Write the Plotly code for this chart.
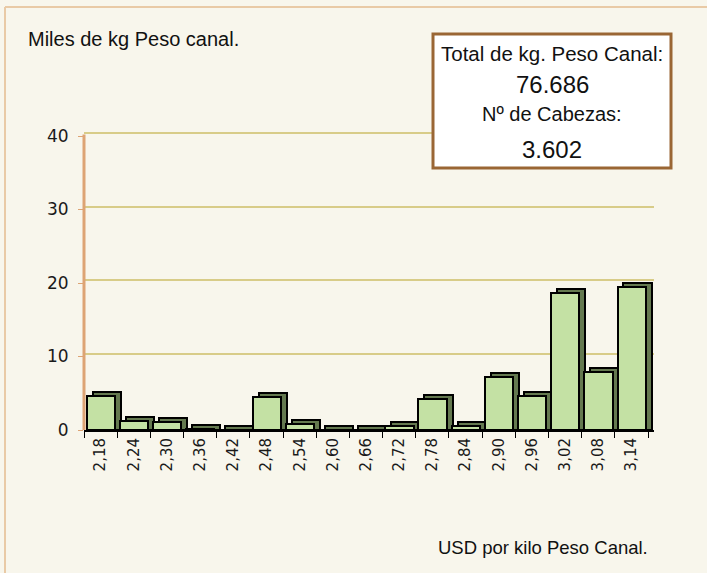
import plotly.graph_objects as go

# Price classes (USD per kg carcass weight) and carcass weight per class (thousand kg)
precios = ["2,18", "2,24", "2,30", "2,36", "2,42", "2,48", "2,54", "2,60", "2,66",
           "2,72", "2,78", "2,84", "2,90", "2,96", "3,02", "3,08", "3,14"]
miles_kg = [4.63, 1.27, 1.13, 0.08, 0.05, 4.53, 0.82, 0.05, 0.05,
            0.54, 4.18, 0.59, 7.17, 4.67, 18.6, 7.93, 19.5]

total_kg = "76.686"
cabezas = "3.602"

y_ticks = [0, 10, 20, 30, 40]

W, H = 707, 573
L, R, T, B = 84, 53, 130, 143
PW, PH = W - L - R, H - T - B
PX_PER_UNIT = 7.35
Y_TOP = PH / PX_PER_UNIT
DEPTH_Y = 0.55          # extrusion height in value units
DEPTH_X = 0.18          # extrusion shift in category units
BAR_W = 0.853
BAR_OFF = -0.42
WALL_SHIFT = 3 / PX_PER_UNIT  # back-wall gridlines sit slightly higher


def px(x):
    return (x - L) / PW


def py(y):
    return (H - B - y) / PH


BG = "#F8F6EC"
FRONT = "#C4E1A4"
SIDE = "#64794F"

fig = go.Figure()

# extruded side/top faces behind the bars
fig.add_trace(go.Bar(
    x=precios, y=[v + DEPTH_Y for v in miles_kg],
    offset=BAR_OFF + DEPTH_X, width=BAR_W,
    marker=dict(color=SIDE, line=dict(color="black", width=2)),
    hoverinfo="skip", showlegend=False,
))
# front faces
fig.add_trace(go.Bar(
    x=precios, y=miles_kg,
    offset=BAR_OFF, width=BAR_W,
    marker=dict(color=FRONT, line=dict(color="black", width=2)),
    showlegend=False,
))
# invisible trace that carries the back-wall gridline axis
fig.add_trace(go.Scatter(
    x=[precios[0]], y=[0], yaxis="y2", mode="markers",
    marker=dict(opacity=0), hoverinfo="skip", showlegend=False,
))

fig.update_layout(
    width=W, height=H,
    margin=dict(l=L, r=R, t=T, b=B),
    paper_bgcolor=BG, plot_bgcolor=BG,
    barmode="overlay",
    bargap=0,
    xaxis=dict(
        type="category",
        range=[-0.5, 16.5 + DEPTH_X],
        showgrid=False,
        showline=True, linecolor="black", linewidth=2,
        ticks="outside", tickson="boundaries", ticklen=6,
        tickcolor="black", tickwidth=1,
        tickangle=-90,
        tickfont=dict(family="DejaVu Sans", size=15, color="#1a1a1a"),
        fixedrange=True,
    ),
    yaxis=dict(
        range=[0, Y_TOP],
        tickvals=y_ticks,
        showgrid=False, zeroline=False,
        showline=False,
        ticks="outside", ticklen=5, tickcolor="#DDA474", tickwidth=1,
        ticklabelstandoff=6,
        tickfont=dict(family="DejaVu Sans", size=17, color="#1a1a1a"),
        fixedrange=True,
    ),
    yaxis2=dict(
        overlaying="y",
        range=[-WALL_SHIFT, Y_TOP - WALL_SHIFT],
        tickvals=y_ticks[1:],
        showticklabels=False, ticks="",
        showgrid=True, gridcolor="#D8CC88", gridwidth=2,
        zeroline=False, showline=False,
        fixedrange=True,
    ),
)

shapes = [
    # left value axis line
    dict(type="line", xref="paper", yref="y", x0=0.0, x1=0.0, y0=0, y1=y_ticks[-1] + 0.2,
         line=dict(color="#DDA474", width=3), layer="above"),
    # outer chart border (top and left edges)
    dict(type="line", xref="paper", yref="paper", x0=px(5), x1=px(720), y0=py(7), y1=py(7),
         line=dict(color="#E9CAA6", width=2)),
    dict(type="line", xref="paper", yref="paper", x0=px(5), x1=px(5), y0=py(7), y1=py(590),
         line=dict(color="#E9CAA6", width=2)),
    # summary box
    dict(type="rect", xref="paper", yref="paper", x0=px(433), x1=px(671), y0=py(168), y1=py(34),
         fillcolor="white", line=dict(color="#9A6634", width=3), layer="above"),
]

cx = px(552)
annotations = [
    dict(text="Miles de kg Peso canal.", xref="paper", yref="paper", x=px(26), y=py(39),
         xanchor="left", yanchor="middle", showarrow=False,
         font=dict(family="Liberation Sans", size=20, color="#111111")),
    dict(text="USD por kilo Peso Canal.", xref="paper", yref="paper", x=px(650), y=py(547),
         xanchor="right", yanchor="middle", showarrow=False,
         font=dict(family="Liberation Sans", size=18.5, color="#111111")),
    dict(text="Total de kg. Peso Canal:", xref="paper", yref="paper", x=cx, y=py(53),
         xanchor="center", yanchor="middle", showarrow=False,
         font=dict(family="Liberation Sans", size=20.5, color="#111111")),
    dict(text=total_kg, xref="paper", yref="paper", x=cx, y=py(84),
         xanchor="center", yanchor="middle", showarrow=False,
         font=dict(family="Liberation Sans", size=24, color="#111111")),
    dict(text="Nº de Cabezas:", xref="paper", yref="paper", x=cx, y=py(114),
         xanchor="center", yanchor="middle", showarrow=False,
         font=dict(family="Liberation Sans", size=20, color="#111111")),
    dict(text=cabezas, xref="paper", yref="paper", x=cx, y=py(149),
         xanchor="center", yanchor="middle", showarrow=False,
         font=dict(family="Liberation Sans", size=24, color="#111111")),
]

fig.update_layout(shapes=shapes, annotations=annotations)

fig.write_html("out.html")
